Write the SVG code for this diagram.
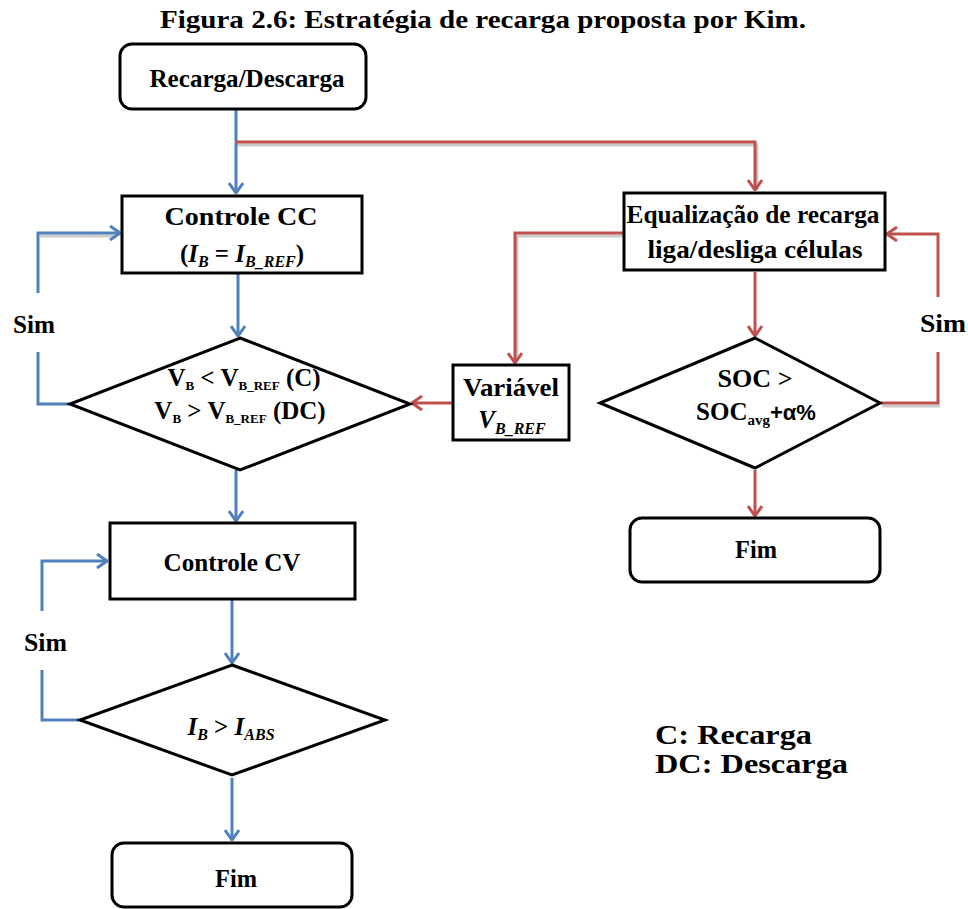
<svg xmlns="http://www.w3.org/2000/svg" width="968" height="909" viewBox="0 0 968 909">
  <style>
    text { font-family: "Liberation Serif", "Times New Roman", serif; font-weight: bold; fill: #000; }
    .box { fill: #fff; stroke: #000; stroke-width: 3; }
    .blue { fill: none; stroke: #4F81BD; stroke-width: 3; }
    .red { fill: none; stroke: #C0504D; stroke-width: 3; }
    .shadow { fill: none; stroke: #8c8c8c; stroke-width: 3; opacity: 0.45; }
    .lbl { font-size: 25px; text-anchor: middle; }
    .sim { font-size: 25px; }
    .it { font-style: italic; }
  </style>
  <defs>
    <marker id="arrowBlue" viewBox="0 0 12 16" refX="11" refY="8" markerWidth="12" markerHeight="16" markerUnits="userSpaceOnUse" orient="auto">
      <path d="M1,1 L11,8 L1,15" fill="none" stroke="#4F81BD" stroke-width="3"/>
    </marker>
    <marker id="arrowRed" viewBox="0 0 12 16" refX="11" refY="8" markerWidth="12" markerHeight="16" markerUnits="userSpaceOnUse" orient="auto">
      <path d="M1,1 L11,8 L1,15" fill="none" stroke="#C0504D" stroke-width="3"/>
    </marker>
  </defs>

  <rect width="968" height="909" fill="#fff"/>

  <text x="483" y="28" font-size="25" text-anchor="middle" textLength="646" lengthAdjust="spacingAndGlyphs">Figura 2.6: Estratégia de recarga proposta por Kim.</text>

  <!-- connectors -->
  <g id="connectors">
    <!-- soft shadows under some of the lines -->
    <path class="shadow" d="M237,145 H757 V190"/>
    <path class="shadow" d="M40,236 H116"/>
    <path class="shadow" d="M623,236 H517 V360"/>
    <path class="shadow" d="M882,406 H940"/>
    <!-- blue flow -->
    <path class="blue" d="M236,110 V193" marker-end="url(#arrowBlue)"/>
    <path class="blue" d="M238,274 V336" marker-end="url(#arrowBlue)"/>
    <path class="blue" d="M38,293 V233 H120" marker-end="url(#arrowBlue)"/>
    <path class="blue" d="M38,352 V404 H70"/>
    <path class="blue" d="M236,470 V521" marker-end="url(#arrowBlue)"/>
    <path class="blue" d="M232,600 V663" marker-end="url(#arrowBlue)"/>
    <path class="blue" d="M42,611 V561 H107" marker-end="url(#arrowBlue)"/>
    <path class="blue" d="M42,670 V720 H82"/>
    <path class="blue" d="M232,778 V840" marker-end="url(#arrowBlue)"/>
    <!-- red flow -->
    <path class="red" d="M236,142 H755 V190" marker-end="url(#arrowRed)"/>
    <path class="red" d="M623,233 H515 V363" marker-end="url(#arrowRed)"/>
    <path class="red" d="M452,403 H412" marker-end="url(#arrowRed)"/>
    <path class="red" d="M755,272 V336" marker-end="url(#arrowRed)"/>
    <path class="red" d="M938,297 V234 H887" marker-end="url(#arrowRed)"/>
    <path class="red" d="M880,403 H938 V352"/>
    <path class="red" d="M755,470 V516" marker-end="url(#arrowRed)"/>
  </g>

  <g id="start">
    <rect class="box" x="120" y="44" width="246" height="65" rx="12"/>
    <text class="lbl" x="247" y="87" textLength="195" lengthAdjust="spacingAndGlyphs">Recarga/Descarga</text>
  </g>

  <g id="controle-cc">
    <rect class="box" x="122" y="196" width="240" height="77"/>
    <text class="lbl" x="241" y="225" textLength="153" lengthAdjust="spacingAndGlyphs">Controle CC</text>
    <text class="lbl" x="242" y="262">(<tspan class="it">I</tspan><tspan class="it" font-size="16" dy="5">B</tspan><tspan dy="-5"> = </tspan><tspan class="it">I</tspan><tspan class="it" font-size="16" dy="5">B_REF</tspan><tspan dy="-5">)</tspan></text>
  </g>

  <g id="cond-vref">
    <polygon class="box" points="240,338 410,404 240,470 70,404"/>
    <text class="lbl" x="244" y="386" font-size="21">V<tspan font-size="13" dy="4">B</tspan><tspan dy="-4"> &lt; V</tspan><tspan font-size="13" dy="4">B_REF</tspan><tspan dy="-4"> (C)</tspan></text>
    <text class="lbl" x="240" y="419" font-size="21">V<tspan font-size="13" dy="4">B</tspan><tspan dy="-4"> &gt; V</tspan><tspan font-size="13" dy="4">B_REF</tspan><tspan dy="-4"> (DC)</tspan></text>
  </g>

  <text class="sim" x="13" y="333" textLength="42" lengthAdjust="spacingAndGlyphs">Sim</text>

  <g id="controle-cv">
    <rect class="box" x="110" y="523" width="245" height="76"/>
    <text class="lbl" x="232" y="571" textLength="137" lengthAdjust="spacingAndGlyphs">Controle CV</text>
  </g>

  <text class="sim" x="24" y="651" textLength="43" lengthAdjust="spacingAndGlyphs">Sim</text>

  <g id="cond-iabs">
    <polygon class="box" points="232,665 385,720 232,775 80,720"/>
    <text class="lbl" x="231" y="735"><tspan class="it">I</tspan><tspan class="it" font-size="16" dy="5">B</tspan><tspan dy="-5"> &gt; </tspan><tspan class="it">I</tspan><tspan class="it" font-size="16" dy="5">ABS</tspan></text>
  </g>

  <g id="fim-left">
    <rect class="box" x="112" y="843" width="240" height="64" rx="12"/>
    <text class="lbl" x="236" y="887" textLength="42" lengthAdjust="spacingAndGlyphs">Fim</text>
  </g>

  <g id="equalizacao">
    <rect class="box" x="624" y="193" width="261" height="77"/>
    <text class="lbl" x="753" y="223" textLength="253" lengthAdjust="spacingAndGlyphs">Equalização de recarga</text>
    <text class="lbl" x="755" y="258" textLength="215" lengthAdjust="spacingAndGlyphs">liga/desliga células</text>
  </g>

  <g id="variavel">
    <rect class="box" x="453" y="365" width="116" height="75"/>
    <text class="lbl" x="511" y="396" textLength="96" lengthAdjust="spacingAndGlyphs">Variável</text>
    <text class="lbl it" x="512" y="428">V<tspan font-size="16" dy="6">B_REF</tspan></text>
  </g>

  <g id="cond-soc">
    <polygon class="box" points="755,338 880,403 755,468 600,403"/>
    <text class="lbl" x="755" y="387" textLength="75" lengthAdjust="spacingAndGlyphs">SOC &gt;</text>
    <text class="lbl" x="756" y="420">SOC<tspan font-size="15" dy="5">avg</tspan><tspan dy="-5" font-family="Liberation Sans, Arial, sans-serif" font-size="22">+α%</tspan></text>
  </g>

  <text class="sim" x="920" y="332" textLength="46" lengthAdjust="spacingAndGlyphs">Sim</text>

  <g id="fim-right">
    <rect class="box" x="630" y="518" width="250" height="64" rx="12"/>
    <text class="lbl" x="756" y="558" textLength="42" lengthAdjust="spacingAndGlyphs">Fim</text>
  </g>

  <g id="legenda">
    <text x="655" y="744" font-size="27" textLength="157" lengthAdjust="spacingAndGlyphs">C: Recarga</text>
    <text x="655" y="773" font-size="27" textLength="193" lengthAdjust="spacingAndGlyphs">DC: Descarga</text>
  </g>
</svg>
